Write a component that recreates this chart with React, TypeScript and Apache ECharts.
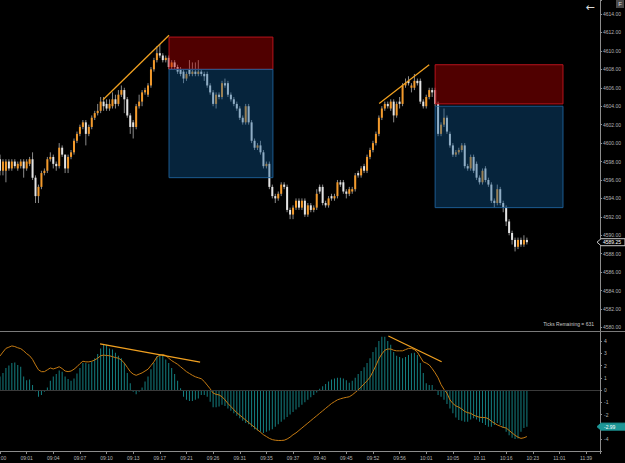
import React, { useEffect, useRef } from 'react';
import * as echarts from 'echarts';

const FONT = '"Liberation Sans", Arial, sans-serif';

const timeLabels = ['09:00','09:01','09:04','09:07','09:10','09:13','09:17','09:21','09:26','09:31','09:35','09:37','09:40','09:45','09:52','09:56','10:01','10:05','10:11','10:16','10:23','11:01','11:39'];
const BARS_PER_LABEL = 9;

const opens = [4598.25,4597.0,4597.0,4598.0,4597.25,4598.0,4597.25,4597.5,4598.0,4597.25,4597.75,4598.25,4596.25,4594.25,4595.25,4596.75,4597.0,4598.25,4598.5,4597.75,4597.5,4599.5,4598.75,4597.25,4598.5,4599.0,4600.25,4601.0,4601.75,4602.25,4601.0,4601.75,4602.75,4603.25,4603.5,4604.5,4604.25,4603.75,4604.0,4604.75,4604.25,4605.25,4605.75,4604.75,4603.0,4602.25,4601.75,4604.0,4604.5,4605.5,4605.25,4606.25,4608.0,4609.0,4609.75,4609.5,4609.0,4609.25,4608.25,4608.75,4608.25,4608.0,4607.75,4607.0,4608.0,4607.5,4607.75,4607.5,4607.75,4607.5,4607.5,4606.25,4605.5,4604.25,4605.25,4605.0,4606.5,4606.5,4605.25,4604.75,4604.25,4603.75,4602.75,4602.25,4604.0,4602.25,4600.25,4599.5,4599.75,4599.0,4597.5,4597.75,4595.25,4594.25,4594.0,4594.5,4595.5,4595.25,4592.75,4592.25,4593.0,4593.75,4593.0,4593.75,4592.25,4593.25,4592.75,4593.0,4595.25,4595.25,4593.5,4593.25,4594.25,4594.0,4594.25,4595.75,4595.75,4594.75,4594.5,4594.75,4595.0,4596.75,4596.5,4597.5,4597.0,4598.5,4599.25,4600.0,4601.0,4602.75,4603.75,4604.25,4603.75,4604.5,4603.0,4604.5,4604.25,4606.25,4606.75,4606.0,4606.0,4606.75,4606.75,4604.5,4604.0,4605.0,4605.75,4605.75,4604.25,4601.0,4602.0,4602.75,4601.0,4599.75,4598.75,4599.0,4599.25,4599.75,4597.5,4597.25,4598.5,4597.75,4596.25,4595.75,4597.25,4596.0,4595.5,4593.75,4593.5,4595.0,4593.5,4593.0,4591.5,4590.25,4589.5,4588.75,4589.5,4589.0,4589.5];
const closes = [4597.0,4598.0,4598.0,4597.25,4598.0,4597.5,4597.75,4598.0,4597.25,4598.0,4598.25,4596.25,4594.25,4595.25,4596.75,4597.0,4598.25,4598.5,4597.75,4597.5,4599.5,4598.75,4597.25,4598.5,4599.0,4600.25,4601.0,4601.75,4602.25,4601.0,4601.75,4602.75,4603.25,4603.5,4604.5,4604.0,4603.75,4604.25,4604.75,4604.25,4605.25,4605.75,4604.75,4603.0,4601.75,4601.75,4604.0,4604.5,4605.5,4605.75,4606.25,4608.0,4609.0,4609.75,4609.5,4609.0,4609.25,4608.25,4608.75,4608.25,4607.75,4607.5,4607.0,4607.5,4607.5,4607.75,4607.5,4607.75,4607.5,4607.25,4606.25,4605.5,4604.25,4605.25,4605.0,4606.5,4606.25,4605.25,4604.75,4604.25,4603.75,4602.75,4602.25,4604.0,4602.25,4600.25,4599.5,4599.75,4599.0,4597.5,4597.75,4595.25,4594.25,4594.0,4594.5,4595.5,4595.25,4592.75,4592.25,4593.0,4593.75,4593.0,4593.75,4592.25,4593.25,4592.75,4593.0,4594.5,4594.75,4593.5,4593.25,4594.0,4594.0,4594.25,4595.75,4595.5,4594.75,4594.5,4595.0,4595.0,4596.5,4596.5,4597.25,4597.0,4598.5,4599.25,4600.0,4601.0,4602.75,4603.75,4604.25,4604.0,4604.5,4603.0,4604.25,4604.25,4606.25,4606.5,4606.5,4606.25,4606.75,4606.5,4604.5,4604.0,4605.0,4605.75,4605.5,4604.25,4601.0,4602.0,4602.75,4601.25,4599.75,4598.75,4599.0,4599.25,4599.75,4597.5,4597.25,4598.5,4597.0,4596.25,4595.75,4597.0,4596.0,4595.5,4593.75,4593.5,4595.0,4593.5,4593.0,4591.5,4590.25,4589.5,4588.75,4589.5,4589.0,4589.5,4589.25];
const lows = [4596.5,4596.5,4595.75,4597.0,4597.0,4597.25,4597.0,4597.25,4596.25,4597.0,4597.5,4596.0,4593.5,4593.5,4595.0,4596.5,4596.75,4598.0,4597.25,4597.0,4597.25,4598.5,4596.75,4596.75,4598.25,4598.75,4600.0,4600.75,4601.5,4599.75,4600.75,4601.5,4602.5,4603.0,4603.25,4603.5,4603.5,4603.5,4603.75,4603.75,4604.0,4605.0,4603.25,4602.75,4601.0,4600.5,4601.5,4603.75,4604.0,4605.25,4605.0,4606.0,4607.75,4608.75,4609.25,4608.75,4608.75,4608.0,4608.0,4608.0,4607.5,4607.25,4606.5,4606.75,4607.25,4607.25,4607.25,4607.25,4607.25,4606.75,4606.0,4605.25,4604.0,4603.75,4604.75,4604.75,4606.0,4605.0,4604.5,4604.0,4603.5,4602.5,4602.0,4602.0,4602.0,4600.0,4599.25,4599.25,4598.75,4597.25,4597.25,4595.0,4594.0,4593.5,4593.75,4594.25,4595.0,4592.5,4591.75,4591.75,4592.75,4592.75,4592.75,4592.0,4592.0,4592.5,4592.5,4592.75,4594.5,4593.25,4593.0,4593.0,4593.75,4593.75,4594.0,4595.25,4594.5,4594.0,4594.25,4594.5,4594.75,4596.25,4596.25,4596.75,4596.75,4598.25,4599.0,4599.75,4600.75,4602.5,4603.5,4603.75,4603.5,4602.25,4602.75,4603.75,4604.0,4606.0,4606.25,4605.5,4605.75,4606.25,4604.25,4603.75,4603.75,4604.75,4605.0,4604.0,4600.75,4600.75,4601.75,4601.0,4599.5,4598.5,4598.5,4598.75,4599.0,4597.25,4597.0,4597.0,4596.75,4596.0,4595.5,4595.5,4595.75,4595.25,4593.5,4593.0,4593.25,4593.25,4592.5,4591.0,4590.0,4589.0,4588.25,4588.5,4588.75,4588.75,4589.0];
const highs = [4598.75,4598.25,4598.25,4598.25,4598.25,4598.25,4598.0,4598.25,4598.25,4598.25,4598.5,4599.0,4596.5,4595.5,4597.0,4597.25,4598.5,4599.0,4598.75,4598.0,4600.0,4599.75,4598.75,4598.75,4599.25,4600.5,4601.25,4602.0,4602.5,4602.5,4602.0,4603.0,4603.5,4604.25,4605.0,4605.0,4604.75,4604.75,4605.5,4605.25,4605.75,4606.25,4606.0,4605.0,4603.25,4602.5,4604.25,4605.25,4605.75,4606.0,4606.5,4608.25,4609.25,4610.5,4610.75,4609.75,4609.5,4609.5,4609.0,4609.0,4608.5,4608.25,4608.0,4607.75,4609.0,4608.75,4608.75,4609.0,4608.0,4607.75,4607.75,4606.5,4605.75,4605.5,4605.5,4606.75,4607.0,4606.75,4605.5,4605.0,4604.5,4604.0,4603.0,4604.25,4604.25,4602.5,4600.5,4600.0,4600.25,4599.25,4598.0,4598.0,4595.5,4594.5,4594.75,4595.75,4595.75,4595.5,4593.0,4593.25,4594.0,4594.0,4594.0,4594.0,4593.5,4593.5,4593.25,4595.0,4595.5,4595.5,4593.75,4594.25,4594.5,4594.5,4596.0,4596.0,4596.0,4595.0,4595.25,4595.25,4596.75,4597.0,4597.5,4597.75,4598.75,4599.5,4600.25,4601.25,4603.0,4604.0,4604.5,4604.5,4604.75,4604.75,4604.5,4605.0,4606.5,4607.0,4607.25,4606.5,4607.5,4607.0,4607.0,4604.75,4605.25,4606.0,4606.0,4606.0,4604.5,4602.25,4603.75,4603.0,4601.25,4600.0,4599.25,4599.5,4600.0,4600.0,4597.75,4598.75,4598.75,4598.0,4596.5,4597.25,4597.5,4596.25,4595.75,4594.0,4595.5,4595.25,4593.75,4593.25,4591.75,4590.5,4589.75,4589.75,4589.75,4590.0,4589.75];

const histValues = [1.1,1.4,1.8,2.0,2.2,2.25,2.05,1.9,1.1,0.8,0.85,0.4,-0.1,-0.55,-0.4,-0.15,0.2,0.75,1.1,1.3,1.6,1.5,1.1,0.9,0.75,0.95,1.35,1.8,2.2,2.2,2.15,2.3,2.6,2.95,3.4,3.7,3.7,3.4,3.3,3.05,2.8,2.6,2.2,1.4,0.55,-0.15,-0.35,-0.15,0.2,0.7,1.1,1.7,2.2,2.75,2.95,2.85,2.5,2.2,1.8,1.3,0.75,0.15,-0.55,-0.8,-0.9,-0.9,-0.8,-0.7,-0.4,-0.4,-0.55,-0.95,-1.4,-1.4,-1.35,-1.2,-1.3,-1.5,-1.7,-1.9,-2.1,-2.3,-2.5,-2.7,-2.8,-3.0,-3.2,-3.3,-3.4,-3.5,-3.4,-3.3,-3.2,-3.0,-2.8,-2.6,-2.4,-2.2,-2.0,-1.8,-1.6,-1.4,-1.2,-1.0,-0.8,-0.6,-0.4,-0.2,0.1,0.3,0.5,0.7,0.85,0.95,1.0,1.0,0.95,0.8,0.6,0.75,1.0,1.3,1.55,1.85,2.2,2.6,3.1,3.5,4.0,4.35,4.35,4.0,3.7,3.1,2.8,2.7,2.6,2.7,2.85,3.0,3.05,2.85,2.2,1.4,0.55,0.4,0.4,0.05,-0.4,-0.55,-0.8,-1.15,-1.5,-1.9,-2.25,-2.45,-2.5,-2.6,-2.6,-2.4,-2.3,-2.4,-2.6,-2.7,-2.85,-3.0,-3.0,-2.85,-2.7,-2.85,-3.1,-3.4,-3.7,-3.9,-4.0,-3.95,-3.4,-3.1,-3.0];
const signalValues = [2.78,3.1,3.4,3.5,3.6,3.55,3.45,3.38,3.2,2.97,2.8,2.5,2.05,1.65,1.5,1.5,1.65,1.8,1.72,1.8,1.9,1.75,1.55,1.5,1.55,1.7,1.9,2.15,2.35,2.3,2.3,2.35,2.45,2.6,2.8,2.85,2.82,2.8,2.72,2.65,2.6,2.45,2.2,1.85,1.5,1.3,1.2,1.3,1.4,1.55,1.7,2.0,2.3,2.7,2.85,2.9,2.82,2.6,2.4,2.25,2.1,1.9,1.7,1.5,1.35,1.2,1.08,1.0,0.92,0.7,0.4,0.1,-0.25,-0.35,-0.4,-0.55,-0.8,-1.1,-1.35,-1.6,-1.85,-2.05,-2.25,-2.45,-2.65,-2.85,-3.05,-3.25,-3.45,-3.65,-3.8,-3.95,-4.05,-4.1,-4.12,-4.12,-4.1,-4.0,-3.85,-3.65,-3.5,-3.3,-3.1,-2.9,-2.7,-2.5,-2.3,-2.1,-1.9,-1.7,-1.5,-1.3,-1.1,-0.95,-0.8,-0.72,-0.65,-0.6,-0.55,-0.4,-0.2,0.0,0.25,0.5,0.75,1.05,1.5,2.0,2.55,2.95,3.25,3.35,3.35,3.25,3.2,3.2,3.2,3.3,3.4,3.4,3.3,3.1,2.7,2.3,2.2,2.05,1.75,1.4,1.0,0.45,0.05,-0.25,-0.8,-1.1,-1.3,-1.4,-1.55,-1.75,-1.85,-1.9,-2.05,-2.15,-2.22,-2.25,-2.25,-2.35,-2.55,-2.7,-2.85,-2.95,-3.05,-3.1,-3.3,-3.5,-3.7,-3.85,-3.95,-3.9,-3.8];

// trade boxes: [startBar, endBar, topPrice, bottomPrice]
const stopBoxes = [[57.1, 92.2, 4611.5, 4608.0], [147.0, 190.2, 4608.5, 4604.25]];
const targetBoxes = [[57.1, 92.2, 4608.0, 4596.25], [147.0, 190.2, 4604.0, 4593.0]];
const priceTrendlines = [[[34.8, 4604.7], [57.1, 4611.7]], [[128.1, 4604.3], [145.0, 4608.5]]];
const oscTrendlines = [[[33.8, 3.76], [67.6, 2.27]], [[131.2, 4.41], [149.2, 2.31]]];
const lastPrice = 4589.25;
const lastOsc = -2.99;
const ticksRemaining = 631;

const X_MAX = 202.7;
const P_MIN = 4579.62;
const P_MAX = 4615.52;
const O_MIN = -4.98;
const O_MAX = 4.82;

export default function App() {
  const ref = useRef<HTMLDivElement>(null);
  useEffect(() => {
    const chart = echarts.init(ref.current!, null, { renderer: 'svg' });
    const candleData = opens.map((o, i) => [i, o, closes[i], lows[i], highs[i]]);
    const boxData = [
      ...stopBoxes.map((b) => [...b, 0]),
      ...targetBoxes.map((b) => [...b, 1]),
    ];
    const axisColor = '#8c8c8c';
    const labelColor = '#b4b4b4';
    const option: any = {
      animation: false,
      backgroundColor: '#000',
      textStyle: { fontFamily: FONT },
      grid: [
        { left: 0, right: 25, top: 0, height: 331, containLabel: false, outerBoundsMode: 'none' },
        { left: 0, right: 25, top: 331, height: 120, containLabel: false, outerBoundsMode: 'none' },
      ],
      xAxis: [
        { type: 'value', gridIndex: 0, min: 0, max: X_MAX, show: false, axisLine: { onZero: false } },
        {
          type: 'value', gridIndex: 1, min: 0, max: X_MAX, interval: BARS_PER_LABEL,
          axisLine: { show: true, onZero: false, lineStyle: { color: axisColor } },
          axisTick: { show: true, length: 3, lineStyle: { color: axisColor } },
          splitLine: { show: false },
          axisLabel: {
            color: labelColor, fontSize: 5, margin: 4, fontFamily: FONT,
            formatter: (v: number) => {
              const k = Math.round(v / BARS_PER_LABEL);
              return Math.abs(v - k * BARS_PER_LABEL) < 1e-6 && timeLabels[k] ? timeLabels[k] : '';
            },
          },
        },
      ],
      yAxis: [
        {
          type: 'value', gridIndex: 0, position: 'right', min: P_MIN, max: P_MAX,
          splitNumber: 18, minInterval: 2, maxInterval: 2,
          axisLine: { show: true, onZero: false, lineStyle: { color: axisColor } },
          axisTick: { show: true, length: 2, lineStyle: { color: axisColor } },
          splitLine: { show: false },
          axisLabel: {
            color: labelColor, fontSize: 5, margin: 3, fontFamily: FONT,
            formatter: (v: number) => (Math.abs(v / 2 - Math.round(v / 2)) < 1e-6 ? v.toFixed(2) : ''),
          },
        },
        {
          type: 'value', gridIndex: 1, position: 'right', min: O_MIN, max: O_MAX,
          splitNumber: 10, minInterval: 1, maxInterval: 1,
          axisLine: { show: true, onZero: false, lineStyle: { color: axisColor } },
          axisTick: { show: true, length: 2, lineStyle: { color: axisColor } },
          splitLine: { show: false },
          axisLabel: {
            color: labelColor, fontSize: 5, margin: 4, fontFamily: FONT,
            formatter: (v: number) => {
              const r = Math.round(v);
              if (Math.abs(v - r) > 1e-6) return '';
              if (Math.abs(r - lastOsc) < 0.5) return '';
              return String(r);
            },
          },
        },
      ],
      series: [
        {
          type: 'custom', name: 'candles', xAxisIndex: 0, yAxisIndex: 0, z: 2,
          dimensions: ['i', 'open', 'close', 'low', 'high'],
          encode: { x: 0, y: [1, 2, 3, 4] },
          data: candleData,
          renderItem: (params: any, api: any) => {
            const x = api.value(0);
            const o = api.value(1), c = api.value(2), l = api.value(3), h = api.value(4);
            const pO = api.coord([x, o]);
            const pC = api.coord([x, c]);
            const pL = api.coord([x, l]);
            const pH = api.coord([x, h]);
            const up = c > o;
            const top = Math.min(pO[1], pC[1]);
            const bh = Math.max(Math.abs(pO[1] - pC[1]), 1);
            return {
              type: 'group',
              children: [
                { type: 'line', shape: { x1: pH[0], y1: pH[1], x2: pL[0], y2: pL[1] }, style: { stroke: '#8a8a8a', lineWidth: 1 } },
                { type: 'rect', shape: { x: pO[0] - 1, y: top, width: 2, height: bh }, style: { fill: up ? '#f39a2b' : '#e4e4e4' } },
              ],
            };
          },
        },
        {
          type: 'custom', name: 'boxes', xAxisIndex: 0, yAxisIndex: 0, z: 5,
          encode: { x: [0, 1], y: [2, 3] },
          data: boxData,
          renderItem: (params: any, api: any) => {
            const p1 = api.coord([api.value(0), api.value(2)]);
            const p2 = api.coord([api.value(1), api.value(3)]);
            const stop = api.value(4) === 0;
            return {
              type: 'rect',
              shape: { x: p1[0], y: p1[1], width: p2[0] - p1[0], height: p2[1] - p1[1] },
              style: stop
                ? { fill: 'rgba(200,0,0,0.40)', stroke: 'rgba(190,20,30,0.95)', lineWidth: 1 }
                : { fill: 'rgba(15,90,150,0.40)', stroke: 'rgba(30,95,150,0.95)', lineWidth: 1 },
            };
          },
        },
        ...priceTrendlines.map((d) => ({
          type: 'line', xAxisIndex: 0, yAxisIndex: 0, z: 6, data: d, showSymbol: false, symbol: 'none',
          lineStyle: { color: '#f0a020', width: 1.3 },
        })),
        {
          type: 'bar', name: 'hist', xAxisIndex: 1, yAxisIndex: 1, z: 2,
          data: histValues.map((v, i) => [i, v]), barWidth: 1,
          itemStyle: { color: '#147f80' },
          markLine: {
            silent: true, symbol: 'none', label: { show: false },
            lineStyle: { color: '#3a3a3a', type: 'solid', width: 1 },
            data: [{ yAxis: 0 }],
          },
        },
        {
          type: 'line', name: 'signal', xAxisIndex: 1, yAxisIndex: 1, z: 4,
          data: signalValues.map((v, i) => [i, v]), showSymbol: false, symbol: 'none',
          lineStyle: { color: '#c47a12', width: 1 },
        },
        ...oscTrendlines.map((d) => ({
          type: 'line', xAxisIndex: 1, yAxisIndex: 1, z: 6, data: d, showSymbol: false, symbol: 'none',
          lineStyle: { color: '#f0a020', width: 1.3 },
        })),
      ],
    };
    chart.setOption(option);

    const yP = chart.convertToPixel({ yAxisIndex: 0 } as any, lastPrice) as number;
    const yO = chart.convertToPixel({ yAxisIndex: 1 } as any, lastOsc) as number;
    const tag = (y: number) => [[597, y], [601, y - 3.5], [625, y - 3.5], [625, y + 3.5], [601, y + 3.5]];
    chart.setOption({
      graphic: [
        { type: 'line', shape: { x1: 0, y1: 331.5, x2: 625, y2: 331.5 }, style: { stroke: '#7a7a7a', lineWidth: 1 }, z: 10 },
        { type: 'text', x: 594, y: 324, z: 10, style: { text: `Ticks Remaining = ${ticksRemaining}`, fill: '#c8c8c8', fontSize: 5, fontFamily: FONT, align: 'right', verticalAlign: 'middle' } },
        { type: 'text', x: 590, y: 7, z: 10, style: { text: '←', fill: '#dcdcdc', fontSize: 11, fontFamily: '"DejaVu Sans", sans-serif', align: 'center', verticalAlign: 'middle' } },
        { type: 'rect', shape: { x: 616, y: 0, width: 8, height: 8 }, style: { fill: '#4a4a4a' }, z: 10 },
        { type: 'text', x: 620, y: 4, z: 11, style: { text: 'F', fill: '#d8d8d8', fontSize: 6, fontFamily: FONT, align: 'center', verticalAlign: 'middle' } },
        { type: 'polygon', shape: { points: tag(yP) }, style: { fill: '#000', stroke: '#c8c8c8', lineWidth: 1 }, z: 10 },
        { type: 'text', x: 603, y: yP, z: 11, style: { text: lastPrice.toFixed(2), fill: '#ffffff', fontSize: 5, fontFamily: FONT, align: 'left', verticalAlign: 'middle' } },
        { type: 'polygon', shape: { points: tag(yO) }, style: { fill: '#1d9696', stroke: '#1d9696', lineWidth: 1 }, z: 10 },
        { type: 'text', x: 604, y: yO, z: 11, style: { text: lastOsc.toFixed(2), fill: '#ffffff', fontSize: 5, fontFamily: FONT, align: 'left', verticalAlign: 'middle' } },
      ],
    });
    return () => chart.dispose();
  }, []);
  return <div ref={ref} style={{ position: 'fixed', left: 0, top: 0, width: 625, height: 463, background: '#000' }} />;
}
